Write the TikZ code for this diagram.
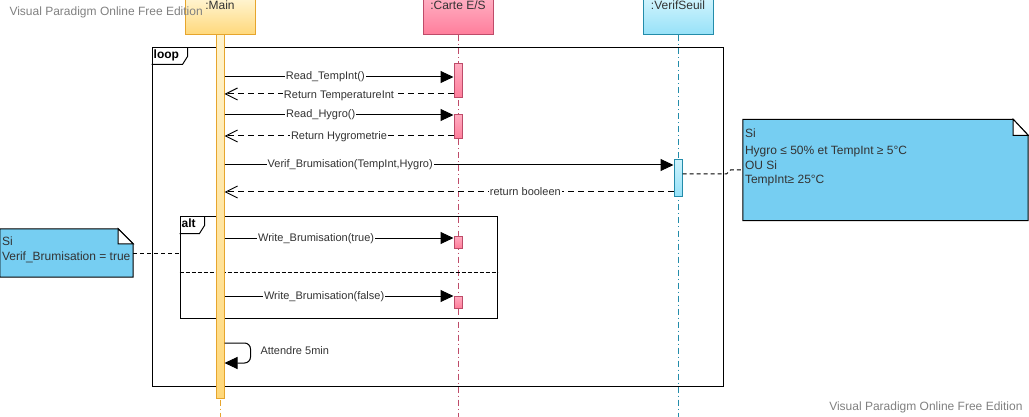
\documentclass[tikz,border=0pt]{standalone}
\usepackage{fontspec}
\setmainfont{Liberation Sans}
\usetikzlibrary{arrows.meta}

\definecolor{mainline}{RGB}{230,165,45}
\definecolor{maintop}{RGB}{255,243,205}
\definecolor{mainbot}{RGB}{255,216,122}
\definecolor{carteline}{RGB}{190,75,105}
\definecolor{cartetop}{RGB}{255,172,192}
\definecolor{cartebot}{RGB}{255,125,155}
\definecolor{verifline}{RGB}{35,140,170}
\definecolor{veriftop}{RGB}{205,243,253}
\definecolor{verifbot}{RGB}{150,225,248}
\definecolor{notefill}{RGB}{118,206,242}
\definecolor{txtgray}{RGB}{51,51,51}
\definecolor{wmgray}{RGB}{128,128,128}

\begin{document}
\begin{tikzpicture}[x=1pt, y=-1pt]

\tikzstyle{every node}=[font=\fontsize{11}{13}\selectfont, text=txtgray]
\tikzstyle{head} = [rectangle, draw, line width=1pt, minimum width=70pt, minimum height=35pt, inner sep=0pt]
\tikzstyle{headtxt} = [anchor=north, inner sep=1.5pt, font=\fontsize{12}{14}\selectfont]
\tikzstyle{bar} = [rectangle, draw, line width=1pt, minimum width=8pt, inner sep=0pt]
\tikzstyle{life} = [line width=1pt, dash pattern=on 6pt off 3pt on 1pt off 3pt]
\tikzstyle{call} = [line width=1pt, -{Triangle[length=13pt,width=12pt]}]
\tikzstyle{reply} = [line width=1pt, dash pattern=on 6pt off 4pt, -{Straight Barb[length=12pt,width=12pt]}]
\tikzstyle{lbl} = [fill=white, inner sep=1pt]
\tikzstyle{fragment} = [rectangle, draw, line width=1pt, inner sep=0pt]
\tikzstyle{tab} = [anchor=north west, inner sep=2pt, font=\bfseries\fontsize{12}{14}\selectfont, text=black]
\tikzstyle{note} = [rectangle, inner sep=0pt]
\tikzstyle{notetxt} = [anchor=north west, inner sep=0pt, align=left, font=\fontsize{12}{14.5}\selectfont]
\tikzstyle{link} = [line width=1pt, dash pattern=on 4pt off 3pt]
\tikzstyle{wm} = [text=wmgray, font=\fontsize{12}{14}\selectfont]

\useasboundingbox (0,0) rectangle (1029,417);

% Lifelines
\node[head, draw=mainline, top color=maintop, bottom color=mainbot] (main) at (220,17.5) {};
\node[headtxt] at (main.north) {:Main};
\node[head, draw=carteline, top color=cartetop, bottom color=cartebot] (carte) at (458,17.5) {};
\node[headtxt] at (carte.north) {:Carte E/S};
\node[head, draw=verifline, top color=veriftop, bottom color=verifbot] (verif) at (678,17.5) {};
\node[headtxt] at (verif.north) {:VerifSeuil};

\coordinate (mainend) at (220,417);
\coordinate (carteend) at (458,417);
\coordinate (verifend) at (678,417);
\draw[life, draw=mainline] (main.south) -- (mainend);
\draw[life, draw=carteline] (carte.south) -- (carteend);
\draw[life, draw=verifline] (verif.south) -- (verifend);

% Fragments
\node[fragment, minimum width=571pt, minimum height=338pt] (loop) at (437.5,217) {};
\node[tab] (looptab) at (loop.north west) {loop};
\draw[line width=1pt] (loop.north west) ++(36,0) -- ++(0,9) -- ++(-5,8) -- ++(-31,0);
\node[fragment, minimum width=317pt, minimum height=101pt] (alt) at (338.5,267.5) {};
\node[tab] (alttab) at (alt.north west) {alt};
\draw[line width=1pt] (alt.north west) ++(25,0) -- ++(0,9) -- ++(-5,8) -- ++(-20,0);
\draw[line width=1pt, dash pattern=on 4pt off 2pt] (alt.west |- 0,272) -- (alt.east |- 0,272);

% Activations
\node[bar, draw=mainline, top color=maintop, bottom color=mainbot, minimum height=363pt] (mainbar) at (220,216.5) {};
\node[bar, draw=carteline, top color=cartetop, bottom color=cartebot, minimum height=34pt] (bar1) at (458,81) {};
\node[bar, draw=carteline, top color=cartetop, bottom color=cartebot, minimum height=24pt] (bar2) at (458,127) {};
\node[bar, draw=carteline, top color=cartetop, bottom color=cartebot, minimum height=12pt] (bar3) at (458,242) {};
\node[bar, draw=carteline, top color=cartetop, bottom color=cartebot, minimum height=12pt] (bar4) at (458,302) {};
\node[bar, draw=verifline, top color=veriftop, bottom color=verifbot, minimum height=37pt] (verifbar) at (678,178) {};

% Messages
\draw[call] (mainbar.east |- 0,77) -- (bar1.west |- 0,77) node[lbl, pos=.44] {Read\_TempInt()};
\draw[reply] (bar1.west |- 0,94) -- (mainbar.east |- 0,94) node[lbl, pos=.5, yshift=-2pt] {Return TemperatureInt};
\draw[call] (mainbar.east |- 0,115) -- (bar2.west |- 0,115) node[lbl, pos=.42] {Read\_Hygro()};
\draw[reply] (bar2.west |- 0,136) -- (mainbar.east |- 0,136) node[lbl, pos=.5, yshift=-1pt] {Return Hygrometrie};
\draw[call] (mainbar.east |- 0,165) -- (verifbar.west |- 0,165) node[lbl, pos=.28] {Verif\_Brumisation(TempInt,Hygro)};
\draw[reply] (verifbar.west |- 0,192) -- (mainbar.east |- 0,192) node[lbl, pos=.33] {return booleen};
\draw[call] (mainbar.east |- 0,238) -- (bar3.west |- 0,238) node[lbl, pos=.40, yshift=-1pt] {Write\_Brumisation(true)};
\draw[call] (mainbar.east |- 0,296) -- (bar4.west |- 0,296) node[lbl, pos=.435, yshift=-1pt] {Write\_Brumisation(false)};
\draw[call, rounded corners=6pt] (mainbar.east |- 0,343) -- ++(26,0) -- ++(0,20) -- (mainbar.east |- 0,363);
\node[anchor=west] (wait) at (257,351) {Attendre 5min};

% Notes
\node[note, minimum width=133pt, minimum height=48pt] (noteL) at (66.5,253) {};
\draw[fill=notefill, line width=1pt] (noteL.south west) -- (noteL.north west) -- ([xshift=-15pt]noteL.north east) -- ([yshift=-15pt]noteL.north east) -- (noteL.south east) -- cycle;
\draw[fill=white, line width=1pt] ([xshift=-15pt]noteL.north east) -- ([xshift=-15pt,yshift=-15pt]noteL.north east) -- ([yshift=-15pt]noteL.north east) -- cycle;
\node[notetxt] at ([xshift=2pt,yshift=-8pt]noteL.north west) {Si\\Verif\_Brumisation = true};

\node[note, minimum width=285pt, minimum height=101pt] (noteR) at (885.5,170) {};
\draw[fill=notefill, line width=1pt] (noteR.south west) -- (noteR.north west) -- ([xshift=-15pt]noteR.north east) -- ([yshift=-16pt]noteR.north east) -- (noteR.south east) -- cycle;
\draw[fill=white, line width=1pt] ([xshift=-15pt]noteR.north east) -- ([xshift=-15pt,yshift=-16pt]noteR.north east) -- ([yshift=-16pt]noteR.north east) -- cycle;
\node[notetxt] at ([xshift=2pt,yshift=-9pt]noteR.north west) {Si\\[3pt]Hygro ≤ 50\% et TempInt ≥ 5°C\\OU Si\\TempInt≥ 25°C};

\draw[link] (noteL.east) -- (alt.west |- noteL.east);
\draw[link] (verifbar.east |- 0,174) -- ++(44,0) -- ++(4,-4) -- (noteR.west);

% Watermarks
\node[wm, anchor=west] (wmtop) at (6,12) {Visual Paradigm Online Free Edition};
\node[wm, anchor=east] (wmbot) at (1026,407) {Visual Paradigm Online Free Edition};

\end{tikzpicture}
\end{document}
